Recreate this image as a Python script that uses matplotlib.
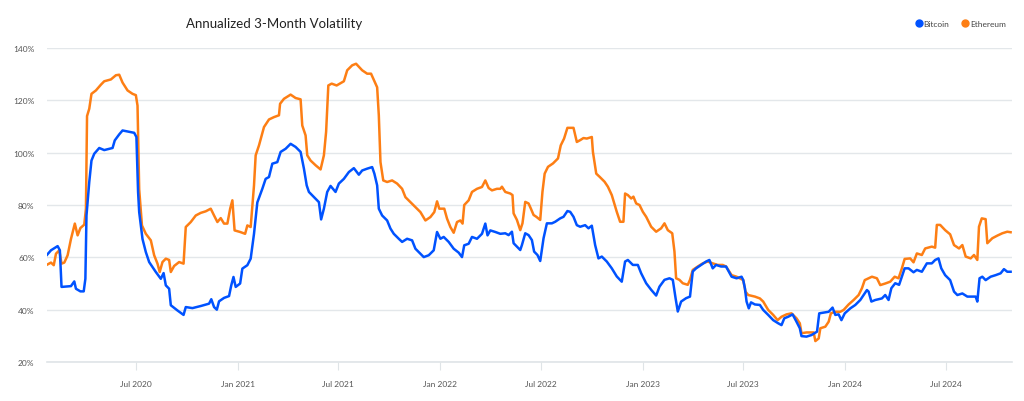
import pandas as pd
import matplotlib
matplotlib.use("Agg")
import matplotlib.pyplot as plt
import matplotlib.dates as mdates
from matplotlib.lines import Line2D
from matplotlib.ticker import FuncFormatter

plt.rcParams['font.family'] = ['Lato', 'DejaVu Sans']

BLUE = '#0052ff'
ORANGE = '#fd7e14'

# values (percent)
btc_dates = [
    '2020-01-23', '2020-01-30', '2020-02-11', '2020-02-15', '2020-02-18', '2020-03-06', '2020-03-12',
    '2020-03-15', '2020-03-23', '2020-03-29', '2020-04-01', '2020-04-03', '2020-04-08', '2020-04-12',
    '2020-04-17', '2020-04-26', '2020-05-05', '2020-05-20', '2020-05-24', '2020-06-01', '2020-06-07',
    '2020-06-19', '2020-06-28', '2020-07-02', '2020-07-05', '2020-07-07', '2020-07-13', '2020-07-19',
    '2020-07-25', '2020-08-06', '2020-08-15', '2020-08-20', '2020-08-24', '2020-08-30', '2020-09-02',
    '2020-09-14', '2020-09-25', '2020-09-29', '2020-10-11', '2020-10-26', '2020-11-10', '2020-11-14',
    '2020-11-19', '2020-11-24', '2020-11-28', '2020-12-07', '2020-12-16', '2020-12-20', '2020-12-24',
    '2020-12-28', '2021-01-05', '2021-01-09', '2021-01-18', '2021-01-24', '2021-01-30', '2021-02-05',
    '2021-02-14', '2021-02-20', '2021-02-26', '2021-03-04', '2021-03-13', '2021-03-19', '2021-03-28',
    '2021-04-06', '2021-04-15', '2021-04-24', '2021-04-30', '2021-05-05', '2021-05-09', '2021-05-15',
    '2021-05-21', '2021-05-27', '2021-05-31', '2021-06-05', '2021-06-11', '2021-06-17', '2021-06-26',
    '2021-07-02', '2021-07-11', '2021-07-20', '2021-07-29', '2021-08-07', '2021-08-13', '2021-08-22',
    '2021-08-31', '2021-09-04', '2021-09-09', '2021-09-12', '2021-09-18', '2021-09-27', '2021-10-03',
    '2021-10-09', '2021-10-18', '2021-10-24', '2021-11-02', '2021-11-11', '2021-11-17', '2021-11-26',
    '2021-12-02', '2021-12-11', '2021-12-20', '2021-12-26', '2022-01-01', '2022-01-07', '2022-01-16',
    '2022-01-25', '2022-02-03', '2022-02-09', '2022-02-13', '2022-02-21', '2022-02-27', '2022-03-08',
    '2022-03-17', '2022-03-23', '2022-03-27', '2022-04-01', '2022-04-10', '2022-04-19', '2022-04-28',
    '2022-05-04', '2022-05-10', '2022-05-13', '2022-05-19', '2022-05-25', '2022-05-28', '2022-06-03',
    '2022-06-09', '2022-06-15', '2022-06-19', '2022-06-25', '2022-06-30', '2022-07-06', '2022-07-12',
    '2022-07-21', '2022-07-27', '2022-08-05', '2022-08-11', '2022-08-18', '2022-08-23', '2022-08-29',
    '2022-09-04', '2022-09-10', '2022-09-19', '2022-09-25', '2022-10-01', '2022-10-07', '2022-10-13',
    '2022-10-19', '2022-10-28', '2022-11-06', '2022-11-15', '2022-11-24', '2022-11-30', '2022-12-05',
    '2022-12-14', '2022-12-23', '2022-12-29', '2023-01-07', '2023-01-16', '2023-01-25', '2023-01-31',
    '2023-02-09', '2023-02-18', '2023-02-24', '2023-03-01', '2023-03-05', '2023-03-11', '2023-03-20',
    '2023-03-27', '2023-04-01', '2023-04-07', '2023-04-16', '2023-04-25', '2023-05-01', '2023-05-07',
    '2023-05-13', '2023-05-22', '2023-05-31', '2023-06-10', '2023-06-19', '2023-06-28', '2023-07-01',
    '2023-07-04', '2023-07-07', '2023-07-11', '2023-07-15', '2023-07-22', '2023-07-31', '2023-08-06',
    '2023-08-15', '2023-08-24', '2023-09-02', '2023-09-08', '2023-09-13', '2023-09-20', '2023-09-28',
    '2023-10-05', '2023-10-11', '2023-10-14', '2023-10-23', '2023-11-01', '2023-11-11', '2023-11-15',
    '2023-11-23', '2023-12-02', '2023-12-09', '2023-12-14', '2023-12-20', '2023-12-25', '2023-12-31',
    '2024-01-10', '2024-01-19', '2024-01-28', '2024-02-03', '2024-02-09', '2024-02-12', '2024-02-17',
    '2024-02-24', '2024-03-07', '2024-03-13', '2024-03-19', '2024-03-24', '2024-03-31', '2024-04-07',
    '2024-04-12', '2024-04-17', '2024-04-24', '2024-05-03', '2024-05-09', '2024-05-18', '2024-05-27',
    '2024-06-05', '2024-06-11', '2024-06-17', '2024-06-22', '2024-06-29', '2024-07-08', '2024-07-15',
    '2024-07-21', '2024-07-30', '2024-08-08', '2024-08-17', '2024-08-23', '2024-08-26', '2024-08-30',
    '2024-09-04', '2024-09-10', '2024-09-19', '2024-09-28', '2024-10-07', '2024-10-13', '2024-10-19',
    '2024-10-25',
]
btc_vals = [
    61.0, 62.7, 64.3, 62.7, 48.7, 49.0, 50.8, 48.0, 47.0, 47.0, 51.8, 76.0, 88.8, 97.0,
    99.6, 101.8, 101.0, 101.8, 104.7, 107.0, 108.5, 108.0, 107.6, 106.0, 85.0, 77.3, 67.0, 62.0,
    58.2, 54.4, 51.8, 54.0, 49.3, 48.0, 41.7, 39.7, 38.0, 41.0, 40.6, 41.4, 42.3, 44.0,
    41.0, 40.0, 43.2, 44.5, 45.2, 49.3, 52.5, 48.7, 50.0, 55.7, 57.0, 59.5, 69.0, 81.0,
    86.2, 90.0, 90.7, 95.8, 96.4, 100.3, 101.5, 103.4, 102.2, 100.3, 93.9, 87.5, 85.0, 83.7,
    82.4, 81.1, 74.5, 78.6, 85.0, 87.3, 85.0, 88.2, 90.0, 92.6, 94.1, 91.6, 93.2, 93.9,
    94.5, 92.0, 87.5, 78.6, 76.0, 74.1, 71.0, 69.0, 67.1, 65.9, 67.1, 66.5, 63.3, 61.4,
    60.1, 60.8, 62.7, 69.7, 67.1, 67.8, 65.9, 63.3, 61.8, 60.1, 64.6, 65.2, 67.8, 67.1,
    69.0, 72.9, 68.4, 70.3, 69.7, 69.0, 69.2, 68.5, 69.8, 65.4, 64.1, 62.8, 64.7, 69.2,
    68.5, 66.6, 62.2, 60.9, 58.6, 67.3, 73.0, 73.0, 73.6, 74.9, 75.5, 77.7, 77.4, 75.5,
    72.3, 71.7, 72.3, 71.1, 72.1, 64.7, 59.6, 60.3, 58.4, 55.8, 52.7, 50.7, 58.4, 59.0,
    57.1, 57.1, 53.9, 50.1, 47.6, 45.4, 48.8, 51.4, 52.0, 51.4, 44.4, 39.3, 43.1, 44.4,
    45.0, 54.6, 55.8, 57.1, 58.4, 59.0, 55.8, 57.1, 56.5, 56.5, 52.6, 52.0, 52.6, 51.3,
    48.2, 43.1, 40.5, 42.8, 42.0, 41.8, 39.9, 38.0, 36.0, 34.8, 34.1, 36.7, 37.3, 38.2,
    35.4, 32.9, 29.9, 29.7, 30.3, 31.6, 38.6, 38.9, 39.2, 40.8, 38.0, 38.2, 36.0, 38.6,
    40.5, 41.8, 43.7, 45.6, 47.5, 46.9, 43.1, 43.7, 44.3, 45.6, 43.7, 48.2, 50.1, 49.5,
    52.6, 55.8, 55.8, 54.3, 55.2, 54.5, 57.7, 57.7, 59.0, 59.6, 55.8, 53.2, 51.3, 46.9,
    45.6, 46.2, 45.0, 45.0, 45.0, 43.1, 52.0, 52.6, 51.3, 52.6, 53.2, 53.9, 55.5, 54.5,
    54.5,
]

eth_dates = [
    '2020-01-23', '2020-01-30', '2020-02-04', '2020-02-08', '2020-02-14', '2020-02-18', '2020-02-23',
    '2020-02-29', '2020-03-06', '2020-03-13', '2020-03-18', '2020-03-23', '2020-03-30', '2020-04-02',
    '2020-04-04', '2020-04-08', '2020-04-12', '2020-04-20', '2020-04-29', '2020-05-05', '2020-05-17',
    '2020-05-26', '2020-06-01', '2020-06-07', '2020-06-16', '2020-06-25', '2020-07-01', '2020-07-04',
    '2020-07-07', '2020-07-12', '2020-07-19', '2020-07-28', '2020-08-03', '2020-08-09', '2020-08-13',
    '2020-08-18', '2020-08-24', '2020-08-30', '2020-09-02', '2020-09-08', '2020-09-17', '2020-09-25',
    '2020-09-29', '2020-10-08', '2020-10-17', '2020-10-26', '2020-11-04', '2020-11-13', '2020-11-19',
    '2020-11-25', '2020-12-01', '2020-12-07', '2020-12-13', '2020-12-18', '2020-12-22', '2020-12-26',
    '2021-01-05', '2021-01-14', '2021-01-18', '2021-01-24', '2021-01-30', '2021-02-02', '2021-02-08',
    '2021-02-17', '2021-02-26', '2021-03-07', '2021-03-16', '2021-03-18', '2021-03-25', '2021-04-06',
    '2021-04-15', '2021-04-24', '2021-04-27', '2021-05-03', '2021-05-06', '2021-05-12', '2021-05-21',
    '2021-05-30', '2021-06-05', '2021-06-09', '2021-06-13', '2021-06-19', '2021-06-28', '2021-07-11',
    '2021-07-17', '2021-07-26', '2021-08-02', '2021-08-13', '2021-08-22', '2021-08-29', '2021-09-02',
    '2021-09-09', '2021-09-12', '2021-09-15', '2021-09-20', '2021-09-27', '2021-10-06', '2021-10-15',
    '2021-10-24', '2021-10-30', '2021-11-08', '2021-11-17', '2021-11-26', '2021-12-05', '2021-12-14',
    '2021-12-21', '2021-12-26', '2021-12-30', '2022-01-08', '2022-01-13', '2022-01-19', '2022-01-25',
    '2022-01-31', '2022-02-06', '2022-02-10', '2022-02-13', '2022-02-21', '2022-02-27', '2022-03-08',
    '2022-03-17', '2022-03-23', '2022-03-29', '2022-04-04', '2022-04-13', '2022-04-19', '2022-04-22',
    '2022-04-28', '2022-05-07', '2022-05-11', '2022-05-13', '2022-05-19', '2022-05-25', '2022-05-29',
    '2022-06-03', '2022-06-09', '2022-06-13', '2022-06-18', '2022-06-23', '2022-06-30', '2022-07-04',
    '2022-07-08', '2022-07-14', '2022-07-23', '2022-08-01', '2022-08-06', '2022-08-12', '2022-08-18',
    '2022-08-29', '2022-09-04', '2022-09-10', '2022-09-16', '2022-09-22', '2022-10-01', '2022-10-03',
    '2022-10-09', '2022-10-15', '2022-10-24', '2022-10-30', '2022-11-06', '2022-11-15', '2022-11-21',
    '2022-11-27', '2022-11-30', '2022-12-05', '2022-12-11', '2022-12-15', '2022-12-20', '2022-12-26',
    '2023-01-01', '2023-01-07', '2023-01-16', '2023-01-25', '2023-02-03', '2023-02-09', '2023-02-15',
    '2023-02-23', '2023-02-27', '2023-03-02', '2023-03-08', '2023-03-14', '2023-03-23', '2023-03-27',
    '2023-04-01', '2023-04-10', '2023-04-19', '2023-04-28', '2023-05-07', '2023-05-16', '2023-05-25',
    '2023-05-31', '2023-06-10', '2023-06-19', '2023-07-01', '2023-07-05', '2023-07-10', '2023-07-22',
    '2023-07-31', '2023-08-06', '2023-08-15', '2023-08-24', '2023-09-01', '2023-09-08', '2023-09-17',
    '2023-09-26', '2023-10-05', '2023-10-11', '2023-10-14', '2023-10-23', '2023-11-05', '2023-11-08',
    '2023-11-14', '2023-11-17', '2023-11-26', '2023-12-02', '2023-12-06', '2023-12-14', '2023-12-23',
    '2023-12-29', '2024-01-07', '2024-01-16', '2024-01-25', '2024-01-31', '2024-02-05', '2024-02-12',
    '2024-02-18', '2024-02-27', '2024-03-04', '2024-03-13', '2024-03-22', '2024-03-30', '2024-04-06',
    '2024-04-12', '2024-04-17', '2024-04-27', '2024-05-03', '2024-05-09', '2024-05-18', '2024-05-24',
    '2024-06-05', '2024-06-11', '2024-06-14', '2024-06-20', '2024-06-29', '2024-07-08', '2024-07-15',
    '2024-07-24', '2024-07-30', '2024-08-05', '2024-08-14', '2024-08-20', '2024-08-26', '2024-08-29',
    '2024-09-03', '2024-09-10', '2024-09-13', '2024-09-22', '2024-10-01', '2024-10-10', '2024-10-19',
    '2024-10-25',
]
eth_vals = [
    57.2, 58.0, 57.0, 61.4, 62.7, 57.6, 58.0, 60.8, 67.0, 72.9, 68.4, 71.2, 72.5, 78.6,
    114.0, 116.8, 122.5, 123.8, 126.0, 127.3, 128.0, 129.6, 129.8, 126.8, 123.8, 122.5, 122.0, 118.0,
    86.0, 72.2, 69.0, 66.5, 60.8, 57.6, 54.4, 58.2, 59.5, 59.0, 54.4, 56.7, 58.2, 57.6,
    71.6, 73.5, 76.0, 77.0, 77.6, 78.6, 76.0, 73.5, 75.0, 72.9, 72.9, 78.6, 81.8, 70.3,
    69.7, 69.0, 72.2, 71.6, 87.5, 99.0, 102.8, 109.8, 112.7, 113.6, 114.3, 118.7, 120.6, 122.2,
    120.9, 120.4, 110.4, 106.6, 99.0, 97.0, 95.2, 93.6, 99.0, 108.0, 125.7, 126.4, 125.7, 127.3,
    131.5, 133.4, 134.0, 131.5, 130.2, 130.2, 128.3, 125.0, 114.3, 96.4, 89.4, 88.8, 89.4, 88.2,
    86.2, 83.0, 81.1, 79.2, 77.3, 74.1, 75.4, 77.3, 81.4, 78.6, 78.6, 74.8, 71.6, 69.4,
    73.5, 74.1, 72.9, 80.0, 81.8, 85.0, 86.2, 86.9, 89.4, 86.5, 85.6, 86.2, 86.2, 87.0,
    85.0, 84.4, 83.8, 76.8, 74.3, 70.4, 73.0, 81.2, 80.6, 78.7, 76.2, 75.5, 74.3, 85.0,
    92.0, 94.6, 95.9, 97.8, 102.8, 105.4, 109.5, 109.5, 104.1, 104.8, 105.6, 105.4, 106.0, 100.3,
    92.0, 90.8, 88.9, 87.0, 83.8, 77.4, 73.6, 73.6, 84.4, 83.8, 82.5, 83.2, 80.6, 80.0,
    77.4, 75.5, 71.7, 69.8, 71.1, 73.0, 70.4, 69.2, 62.2, 52.0, 51.4, 50.1, 49.5, 51.4,
    55.2, 56.5, 57.7, 58.4, 57.7, 57.1, 57.1, 56.5, 53.2, 52.6, 51.3, 46.9, 45.6, 45.0,
    44.3, 43.1, 39.9, 38.0, 36.0, 37.3, 38.2, 38.6, 36.7, 34.8, 31.0, 31.3, 31.3, 28.0,
    29.0, 32.9, 33.5, 35.4, 38.6, 39.2, 39.2, 39.9, 42.0, 43.7, 45.6, 48.2, 51.3, 52.0,
    52.6, 52.0, 49.4, 50.0, 50.7, 52.6, 52.0, 55.8, 59.4, 59.6, 58.1, 61.5, 60.9, 63.4,
    64.1, 63.7, 72.4, 72.4, 70.4, 68.8, 64.7, 63.4, 64.7, 60.3, 59.6, 60.9, 59.0, 71.7,
    74.9, 74.6, 65.4, 67.3, 68.3, 69.2, 69.8, 69.6,
]

y_ticks = [20, 40, 60, 80, 100, 120, 140]
x_ticks = ['2020-07-01', '2021-01-01', '2021-07-01', '2022-01-01', '2022-07-01',
           '2023-01-01', '2023-07-01', '2024-01-01', '2024-07-01']

btc = pd.Series(btc_vals, index=pd.to_datetime(btc_dates))
eth = pd.Series(eth_vals, index=pd.to_datetime(eth_dates))

fig = plt.figure(figsize=(10.24, 4.02), dpi=100)
ax = fig.add_axes([0.046, 0.097, 0.942, 0.781])

ax.plot(eth.index, eth.values, color=ORANGE, lw=1.8, solid_joinstyle='round', zorder=3)
ax.plot(btc.index, btc.values, color=BLUE, lw=1.8, solid_joinstyle='round', zorder=4)

ax.set_ylim(20, 140)
ax.set_yticks(y_ticks)
ax.yaxis.set_major_formatter(FuncFormatter(lambda v, p: '%d%%' % v))
ax.set_xlim(pd.Timestamp('2020-01-23'), pd.Timestamp('2024-10-27'))
ax.set_xticks(pd.to_datetime(x_ticks))
ax.xaxis.set_major_formatter(mdates.DateFormatter('%b %Y'))

ax.grid(axis='y', color='#e3e7ea', lw=1.0, zorder=0)
for s in ['top', 'right', 'left']:
    ax.spines[s].set_visible(False)
ax.spines['bottom'].set_color('#dfe4e7')
ax.spines['bottom'].set_linewidth(1.2)
ax.tick_params(axis='y', length=0, pad=9, labelsize=6, labelcolor='#555555')
ax.tick_params(axis='x', length=6, width=0.8, color='#dfe4e7', pad=7, labelsize=6, labelcolor='#555555')

fig.text(0.182, 0.94, 'Annualized 3-Month Volatility', fontsize=9.5, color='#222222', va='center', ha='left')

handles = [Line2D([], [], ls='', marker='o', ms=5, color=BLUE),
           Line2D([], [], ls='', marker='o', ms=5, color=ORANGE)]
fig.legend(handles, ['Bitcoin', 'Ethereum'], loc='center right', bbox_to_anchor=(0.99, 0.94),
           ncol=2, frameon=False, fontsize=6, handlelength=0.6, handletextpad=0.3,
           columnspacing=1.6, labelcolor='#444444')

fig.savefig('out.png', dpi=100, facecolor='white')
